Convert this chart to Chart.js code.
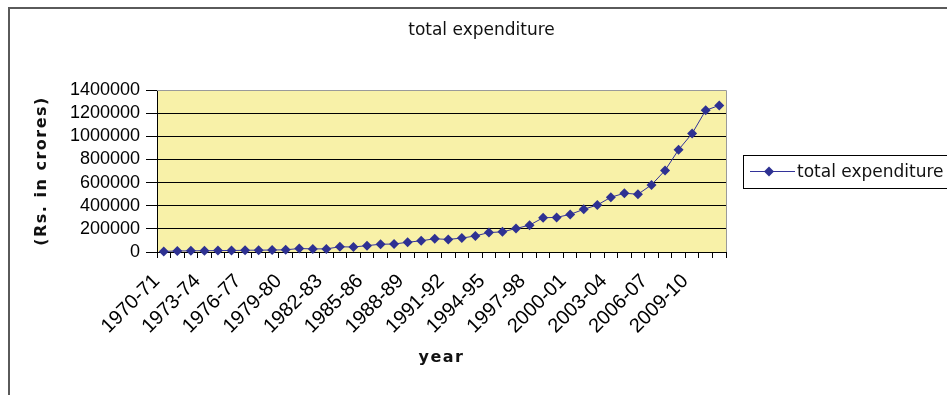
<!DOCTYPE html>
<html>
<head>
<meta charset="utf-8">
<script src="https://cdn.jsdelivr.net/npm/chart.js@4.4.0/dist/chart.umd.min.js"></script>
<style>
  body { margin: 0; background: #fff; }
  canvas { display: block; }
</style>
</head>
<body>
<canvas id="chart" width="947" height="395"></canvas>
<script>
// Data
const years = [
  "1970-71", "1971-72", "1972-73", "1973-74", "1974-75", "1975-76", "1976-77",
  "1977-78", "1978-79", "1979-80", "1980-81", "1981-82", "1982-83", "1983-84",
  "1984-85", "1985-86", "1986-87", "1987-88", "1988-89", "1989-90", "1990-91",
  "1991-92", "1992-93", "1993-94", "1994-95", "1995-96", "1996-97", "1997-98",
  "1998-99", "1999-00", "2000-01", "2001-02", "2002-03", "2003-04", "2004-05",
  "2005-06", "2006-07", "2007-08", "2008-09", "2009-10", "2010-11", "2011-12",
];
const totalExpenditure = [
  5000, 9000, 10000, 11000, 12000, 13000, 15000, 16000, 17000, 19000,
  30000, 27000, 27000, 45000, 43000, 55000, 67000, 69000, 84000, 97000,
  114000, 109000, 120000, 139000, 168000, 174000, 203000, 232000, 296000, 299000,
  325000, 369000, 406000, 473000, 508000, 499000, 580000, 705000, 884000, 1024000,
  1224000, 1267000,
];
const yTicks = [0, 200000, 400000, 600000, 800000, 1000000, 1200000, 1400000];

const lineColor = "#333399";
const markerColor = "#2e3192";

// Outer frame, plot background, plot border and legend box
const frame = {
  id: "frame",
  beforeDraw(chart) {
    const { ctx, chartArea: a } = chart;
    ctx.save();
    ctx.strokeStyle = "#5a5a5a";
    ctx.lineWidth = 2;
    ctx.strokeRect(9, 8, 1000, 500);
    ctx.fillStyle = "#f8f1a8";
    ctx.fillRect(a.left, a.top, a.right - a.left, a.bottom - a.top);
    ctx.restore();
  },
  afterDraw(chart) {
    const { ctx, chartArea: a } = chart;
    ctx.save();
    ctx.strokeStyle = "#9a9a9a";
    ctx.lineWidth = 1;
    ctx.beginPath();
    ctx.moveTo(a.left, a.top + 0.5);
    ctx.lineTo(a.right + 0.5, a.top + 0.5);
    ctx.lineTo(a.right + 0.5, a.bottom);
    ctx.stroke();

    // legend
    const lx = 743, ly = 155, lh = 33;
    const cy = ly + lh / 2;
    ctx.strokeStyle = "#000";
    ctx.strokeRect(lx + 0.5, ly + 0.5, 300, lh);
    ctx.strokeStyle = lineColor;
    ctx.beginPath();
    ctx.moveTo(750, cy);
    ctx.lineTo(795, cy);
    ctx.stroke();
    ctx.fillStyle = markerColor;
    ctx.beginPath();
    ctx.moveTo(769, cy - 5);
    ctx.lineTo(774, cy);
    ctx.lineTo(769, cy + 5);
    ctx.lineTo(764, cy);
    ctx.closePath();
    ctx.fill();
    ctx.fillStyle = "#111";
    ctx.font = "17px 'DejaVu Sans'";
    ctx.textBaseline = "middle";
    ctx.fillText("total expenditure", 797, cy + 1);
    ctx.restore();
  },
};

// Spaced-out bold axis titles
const spacedTitles = {
  id: "spacedTitles",
  afterLayout(chart) {
    Object.values(chart.scales).forEach((scale) => {
      if (scale._spaced) return;
      const orig = scale.drawTitle.bind(scale);
      scale.drawTitle = function () {
        chart.ctx.save();
        chart.ctx.letterSpacing = "1.5px";
        orig();
        chart.ctx.restore();
      };
      scale._spaced = true;
    });
  },
};

const ctx = document.querySelector("#chart").getContext("2d");

new Chart(ctx, {
  type: "line",
  data: {
    labels: years,
    datasets: [
      {
        label: "total expenditure",
        data: totalExpenditure,
        borderColor: lineColor,
        borderWidth: 1,
        pointStyle: "rectRot",
        pointRadius: 5,
        pointBackgroundColor: markerColor,
        pointBorderColor: markerColor,
        pointBorderWidth: 0,
        tension: 0,
        clip: false,
      },
    ],
  },
  options: {
    responsive: false,
    animation: false,
    layout: { padding: { left: 16, right: 0, top: 0, bottom: 0 } },
    plugins: {
      legend: { display: false },
      tooltip: { enabled: false },
      title: {
        display: true,
        text: "total expenditure",
        color: "#111",
        font: { family: "'DejaVu Sans'", size: 17, weight: "normal" },
        padding: { top: 20, bottom: 49.6 },
      },
    },
    scales: {
      x: {
        offset: true,
        afterFit(scale) {
          scale.height = 143;
        },
        border: { color: "#000", width: 1 },
        grid: {
          offset: true,
          drawOnChartArea: false,
          drawTicks: true,
          tickLength: 6,
          color: "#000",
          tickColor: "#000",
        },
        ticks: {
          autoSkip: false,
          maxRotation: 45,
          minRotation: 45,
          padding: 11.5,
          labelOffset: -7,
          color: "#000",
          font: { family: "'Liberation Sans'", size: 20 },
          callback: (val, i) => (i % 3 === 0 ? years[i] : ""),
        },
        title: {
          display: true,
          text: "year",
          color: "#111",
          font: { family: "'DejaVu Sans'", size: 16, weight: "bold" },
          padding: { top: 4, bottom: 27.4 },
        },
      },
      y: {
        min: 0,
        max: 1400000,
        afterFit(scale) {
          scale.width = 141;
        },
        afterBuildTicks(scale) {
          scale.ticks = yTicks.map((v) => ({ value: v }));
        },
        border: { color: "#000", width: 1 },
        grid: {
          color: (c) => (c.tick && c.tick.value === 1400000 ? "#9a9a9a" : "#000"),
          tickColor: "#000",
          tickLength: 11,
          lineWidth: 1,
        },
        ticks: {
          autoSkip: false,
          padding: 6,
          color: "#000",
          font: { family: "'Liberation Sans'", size: 18 },
          callback: (v) => String(v),
        },
        title: {
          display: true,
          text: "(Rs. in crores)",
          color: "#111",
          font: { family: "'DejaVu Sans'", size: 16, weight: "bold" },
          padding: { top: 16.4, bottom: 0 },
        },
      },
      // empty right-hand axis that keeps room for the legend
      legendSpace: {
        type: "linear",
        position: "right",
        afterFit(scale) {
          scale.width = 221;
        },
        grid: { display: false, drawTicks: false },
        border: { display: false },
        ticks: { display: false },
      },
    },
  },
  plugins: [frame, spacedTitles],
});
</script>
</body>
</html>
